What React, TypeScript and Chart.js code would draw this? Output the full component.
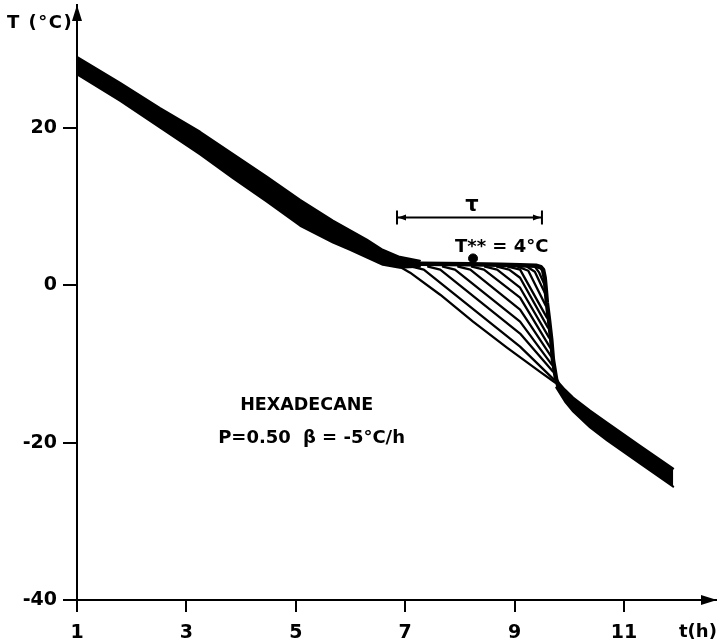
import React, { useEffect, useRef } from "react";
import { Chart, registerables } from "chart.js";

Chart.register(...registerables);

// ---- axes ----
const xTicks = [1, 3, 5, 7, 9, 11];
const yTicks = [-40, -20, 0, 20];
const xRange = [1, 12.7];
const yRange = [-40, 35.6];

// ---- cooling band (many overlapping runs): upper / lower envelope ----
const bandTime = [1.0, 1.79, 2.52, 3.25, 3.85, 4.47, 5.08, 5.68, 5.99, 6.3, 6.59, 6.9, 7.27];
const bandUpper = [29.0, 25.7, 22.5, 19.5, 16.7, 13.8, 10.85, 8.2, 7.0, 5.8, 4.5, 3.6, 3.1];
const bandLower = [26.8, 23.4, 20.0, 16.6, 13.6, 10.6, 7.55, 5.4, 4.5, 3.5, 2.6, 2.2, 2.35];

// ---- longest supercooled run: plateau then sharp drop ----
const plateauTime = [6.9, 7.27, 8.19, 8.73, 9.1, 9.39, 9.48, 9.52, 9.55, 9.57, 9.59, 9.63, 9.67, 9.7, 9.76, 9.81];
const plateauTemp = [2.73, 2.73, 2.66, 2.6, 2.54, 2.47, 2.28, 1.97, 0.95, -0.57, -2.22, -4.5, -6.92, -9.45, -11.99, -13.0];

// ---- common tail (all runs merged): upper / lower envelope ----
const tailTime = [9.76, 9.92, 10.07, 10.38, 10.69, 11.29, 11.9];
const tailUpper = [-12.0, -13.26, -14.28, -15.93, -17.45, -20.37, -23.3];
const tailLower = [-13.0, -14.78, -16.05, -18.08, -19.73, -22.65, -25.6];

// ---- individual runs leaving the plateau at different times [t, T] ----
const hatch01 = [[6.87, 2.47], [7.09, 1.59], [7.64, -1.21], [8.24, -4.63], [8.86, -7.93], [9.46, -10.98], [9.74, -12.37]];
const hatch02 = [[7.12, 2.35], [7.34, 1.97], [9.1, -7.8], [9.72, -11.99]];
const hatch03 = [[7.42, 2.35], [7.64, 1.97], [9.1, -6.15], [9.7, -10.98]];
const hatch04 = [[7.69, 2.35], [7.91, 1.97], [9.1, -4.63], [9.68, -10.09]];
const hatch05 = [[7.97, 2.35], [8.19, 1.97], [9.1, -3.11], [9.67, -9.07]];
const hatch06 = [[8.22, 2.35], [8.44, 1.97], [9.1, -1.59], [9.65, -7.93]];
const hatch07 = [[8.46, 2.35], [8.68, 1.97], [9.1, -0.32], [9.63, -6.66]];
const hatch08 = [[8.68, 2.35], [8.9, 1.97], [9.1, 0.95], [9.61, -5.39]];
const hatch09 = [[8.88, 2.35], [9.1, 1.97], [9.59, -4.12]];
const hatch10 = [[9.06, 2.35], [9.25, 1.84], [9.57, -2.6]];
const hatch11 = [[9.23, 2.35], [9.37, 1.71], [9.56, -1.08]];
const hatch12 = [[9.37, 2.35], [9.45, 1.59], [9.54, 0.19]];

// ---- marks / annotations ----
const crystalPoint = [8.24, 3.4];
const tauStart = 6.85;
const tauEnd = 9.5;
const tauLevel = 8.6;

const FONT = '"DejaVu Sans", "Liberation Sans", sans-serif';

const toPoints = (xs: number[], ys: number[]) => xs.map((v, i) => ({ x: v, y: ys[i] }));
const pairs = (arr: number[][]) => arr.map(([a, b]) => ({ x: a, y: b }));

const annotate = {
  id: "annotate",
  afterDraw(chart: any) {
    const { ctx, chartArea: a, scales } = chart;
    const x = scales.x;
    const y = scales.y;
    ctx.save();
    ctx.fillStyle = "#000";
    ctx.strokeStyle = "#000";

    // axis arrowheads
    ctx.beginPath();
    ctx.moveTo(a.left, a.top);
    ctx.lineTo(a.left - 5, a.top + 16);
    ctx.lineTo(a.left + 5, a.top + 16);
    ctx.closePath();
    ctx.fill();
    ctx.beginPath();
    ctx.moveTo(a.right, a.bottom);
    ctx.lineTo(a.right - 16, a.bottom - 5);
    ctx.lineTo(a.right - 16, a.bottom + 5);
    ctx.closePath();
    ctx.fill();

    // axis titles
    ctx.font = `bold 18px ${FONT}`;
    ctx.textBaseline = "alphabetic";
    ctx.textAlign = "left";
    (ctx as any).letterSpacing = "1.5px";
    ctx.fillText("T (°C)", a.left - 70, a.top + 23);
    (ctx as any).letterSpacing = "0px";
    ctx.fillText("t(h)", a.right - 38, a.bottom + 37);

    // tau bracket
    const bx1 = x.getPixelForValue(tauStart);
    const bx2 = x.getPixelForValue(tauEnd);
    const by = y.getPixelForValue(tauLevel);
    ctx.lineWidth = 2;
    ctx.beginPath();
    ctx.moveTo(bx1, by);
    ctx.lineTo(bx2, by);
    ctx.moveTo(bx1, by - 7);
    ctx.lineTo(bx1, by + 7);
    ctx.moveTo(bx2, by - 7);
    ctx.lineTo(bx2, by + 7);
    ctx.stroke();
    ctx.beginPath();
    ctx.moveTo(bx1 + 1, by);
    ctx.lineTo(bx1 + 9, by - 3);
    ctx.lineTo(bx1 + 9, by + 3);
    ctx.closePath();
    ctx.moveTo(bx2 - 1, by);
    ctx.lineTo(bx2 - 9, by - 3);
    ctx.lineTo(bx2 - 9, by + 3);
    ctx.closePath();
    ctx.fill();

    ctx.font = `bold 21px ${FONT}`;
    ctx.textAlign = "center";
    ctx.fillText("τ", x.getPixelForValue(8.22), y.getPixelForValue(9.45));

    ctx.font = `bold 18px ${FONT}`;
    ctx.textAlign = "left";
    ctx.fillText("T** = 4°C", x.getPixelForValue(7.91), y.getPixelForValue(4.25));

    ctx.font = `bold 17.5px ${FONT}`;
    ctx.textAlign = "center";
    ctx.fillText("HEXADECANE", x.getPixelForValue(5.2), y.getPixelForValue(-15.86));
    ctx.font = `bold 18px ${FONT}`;
    ctx.textAlign = "left";
    ctx.fillText("P=0.50", x.getPixelForValue(3.58), y.getPixelForValue(-20.0));
    ctx.fillText("β = -5°C/h", x.getPixelForValue(5.13), y.getPixelForValue(-20.0));
    ctx.restore();
  },
};

export default function App() {
  const ref = useRef<HTMLCanvasElement>(null);
  useEffect(() => {
    document.body.style.margin = "0";
    const canvas = ref.current!;
    const black = "#000";
    const line = (data: any[], width: number, extra: any = {}) => ({
      data,
      borderColor: black,
      backgroundColor: black,
      borderWidth: width,
      pointRadius: 0,
      tension: 0,
      fill: false,
      borderJoinStyle: "round",
      borderCapStyle: "round",
      ...extra,
    });
    const hatchLines = [hatch01, hatch02, hatch03, hatch04, hatch05, hatch06, hatch07, hatch08, hatch09, hatch10, hatch11, hatch12];
    const datasets: any[] = [
      line(toPoints(bandTime, bandUpper), 2, { fill: "+1" }),
      line(toPoints(bandTime, bandLower), 2),
      line(toPoints(tailTime, tailUpper), 2, { fill: "+1" }),
      line(toPoints(tailTime, tailLower), 2),
      line(toPoints(plateauTime, plateauTemp), 4.5),
      ...hatchLines.map((h) => line(pairs(h), 2.3)),
      {
        data: [{ x: crystalPoint[0], y: crystalPoint[1] }],
        showLine: false,
        pointRadius: 4.5,
        pointBackgroundColor: black,
        pointBorderColor: black,
        borderColor: black,
      },
    ];
    const tickFont = { family: FONT, size: 19, weight: "bold" as const };
    const chart = new Chart(canvas, {
      type: "line",
      data: { datasets },
      options: {
        animation: false,
        responsive: false,
        devicePixelRatio: 1,
        layout: { autoPadding: false, padding: { top: 5, left: 0, right: 0, bottom: 0 } },
        plugins: { legend: { display: false }, tooltip: { enabled: false } },
        scales: {
          x: {
            type: "linear",
            min: xRange[0],
            max: xRange[1],
            afterBuildTicks: (s: any) => {
              s.ticks = xTicks.map((v) => ({ value: v }));
            },
            afterFit: (s: any) => {
              s.height = 44;
              s.paddingLeft = 0;
              s.paddingRight = 0;
            },
            ticks: { font: tickFont, color: black, padding: 10, maxRotation: 0, autoSkip: false },
            grid: { display: true, drawOnChartArea: false, drawTicks: true, tickLength: 12, color: black, lineWidth: 2 },
            border: { display: true, color: black, width: 2 },
          },
          y: {
            type: "linear",
            min: yRange[0],
            max: yRange[1],
            afterBuildTicks: (s: any) => {
              s.ticks = yTicks.map((v) => ({ value: v }));
            },
            afterFit: (s: any) => {
              s.width = 77;
              s.paddingTop = 0;
              s.paddingBottom = 0;
            },
            ticks: { font: tickFont, color: black, padding: 6, autoSkip: false },
            grid: { display: true, drawOnChartArea: false, drawTicks: true, tickLength: 14, color: black, lineWidth: 2 },
            border: { display: true, color: black, width: 2 },
          },
        },
      },
      plugins: [annotate],
    } as any);
    return () => chart.destroy();
  }, []);
  return (
    <div style={{ position: "fixed", left: 0, top: 0, width: 717, height: 644, background: "#fff" }}>
      <canvas ref={ref} width={717} height={644} />
    </div>
  );
}
